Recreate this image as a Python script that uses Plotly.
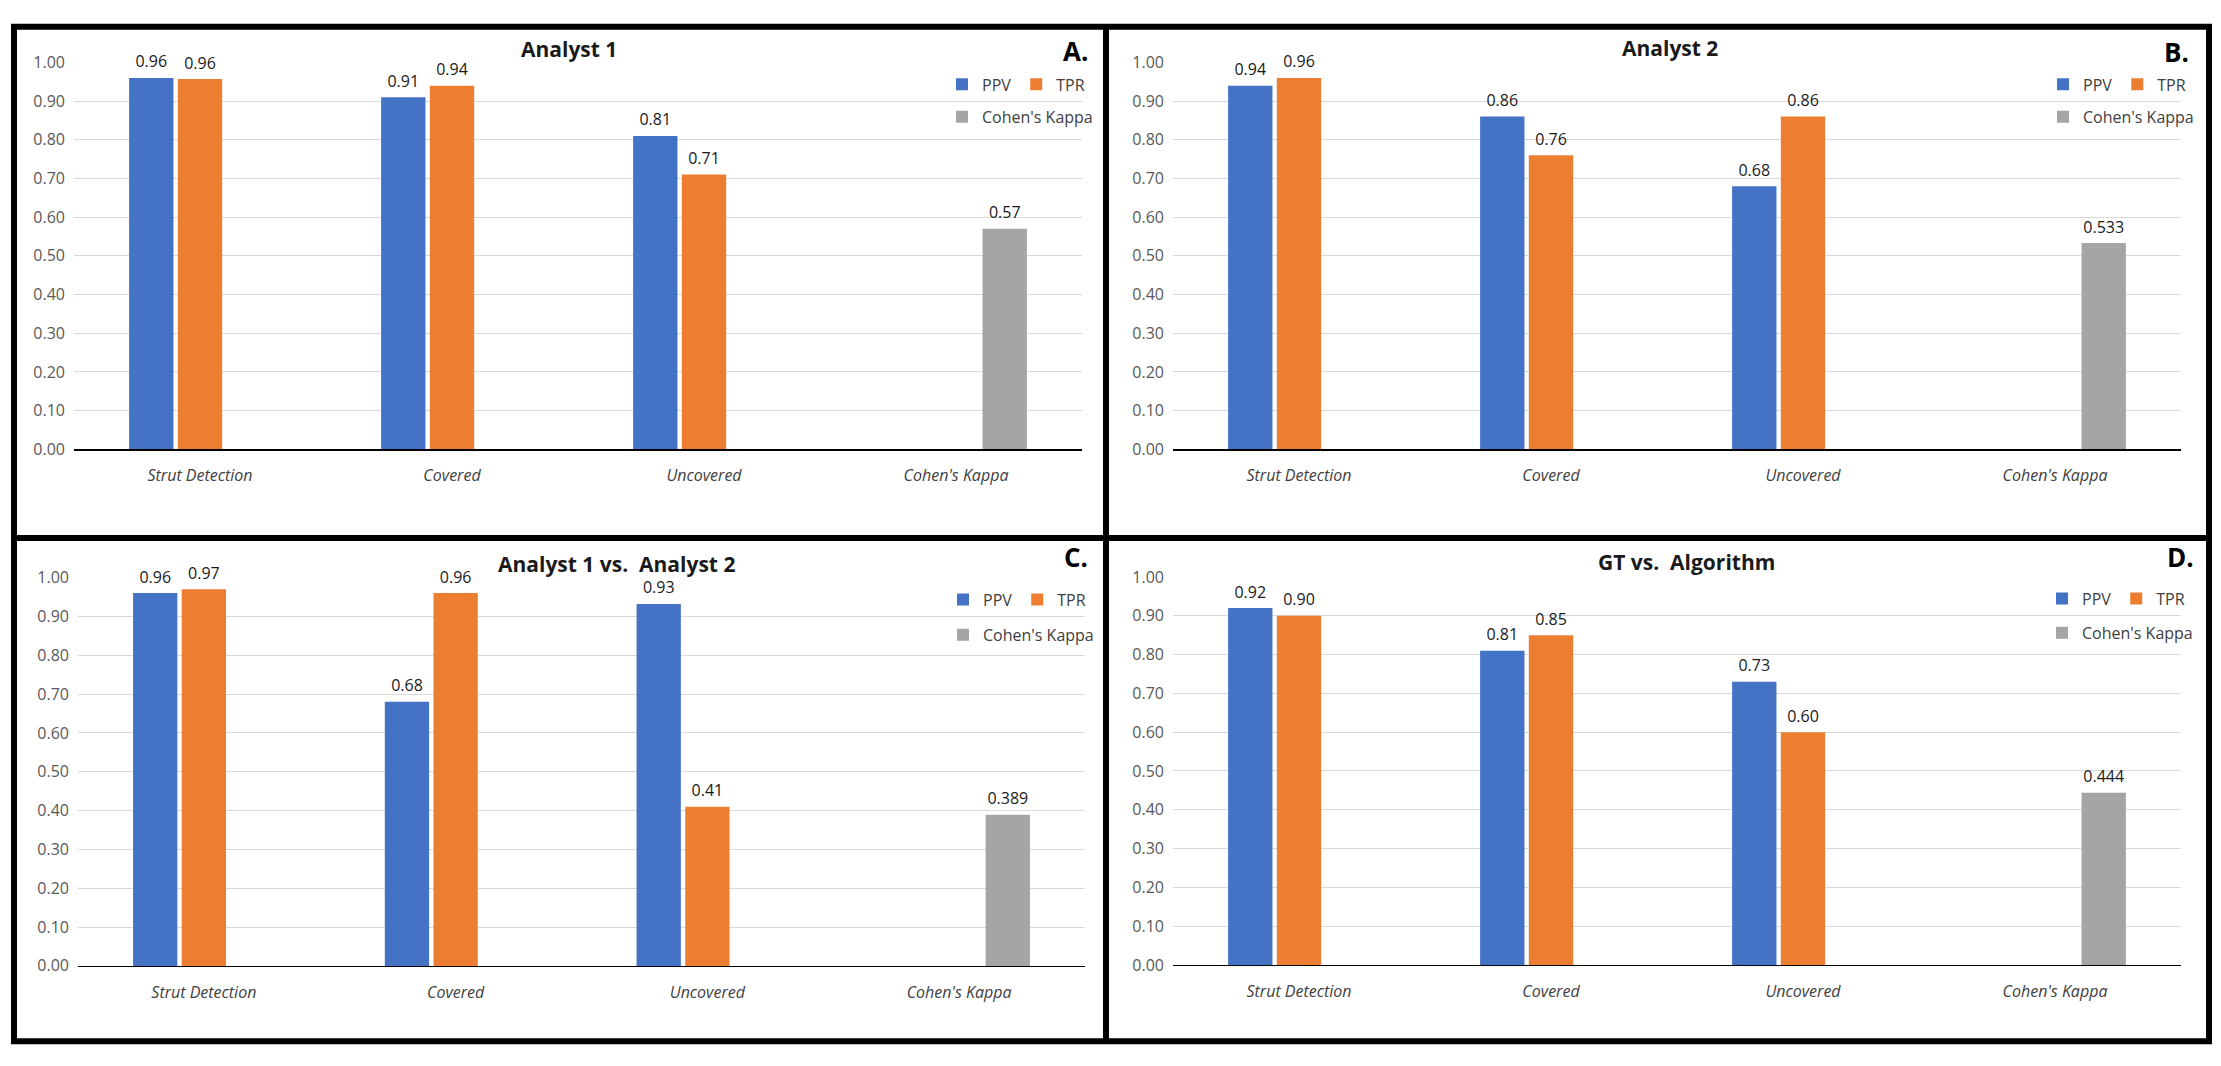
import plotly.graph_objects as go

# ---------------- data ----------------
categories = ["Strut Detection", "Covered", "Uncovered", "Cohen's Kappa"]
series_names = ["PPV", "TPR", "Cohen's Kappa"]
panel_titles = ["Analyst 1", "Analyst 2", "Analyst 1 vs.  Analyst 2", "GT vs.  Algorithm"]
panel_letters = ["A.", "B.", "C.", "D."]

ppv_a = [0.96, 0.91, 0.81]
tpr_a = [0.957, 0.94, 0.71]
ppv_b = [0.94, 0.86, 0.68]
tpr_b = [0.96, 0.76, 0.86]
ppv_c = [0.96, 0.68, 0.932]
tpr_c = [0.97, 0.96, 0.41]
ppv_d = [0.92, 0.81, 0.73]
tpr_d = [0.90, 0.85, 0.60]
kappa_values = [0.57, 0.533, 0.389, 0.444]
kappa_labels = ["0.57", "0.533", "0.389", "0.444"]

ppv_all = [ppv_a, ppv_b, ppv_c, ppv_d]
tpr_all = [tpr_a, tpr_b, tpr_c, tpr_d]

# ---------------- style / layout ----------------
W, H = 2221, 1066
COLORS = ["#4472C4", "#ED7D31", "#A5A5A5"]
FONT = "Open Sans, Segoe UI, Arial, sans-serif"
# data label: normal-size first line, tiny spacer line below lifts the label off the bar
LABEL_TEMPLATE = "<span style='font-size:16px'>%{text}</span><br>\u00a0"


def px_x(v):
    return v / W


def px_y(v):
    return 1 - v / H


# per panel: plot area (left, right, top(1.0), bottom(0.0)) in pixels,
# title centre, letter centre, legend left / row centres
panels = [
    dict(area=(74, 1082, 52.5, 447.5), title=(569, 39), letter=(1075, 41), leg=(942, 75, 108)),
    dict(area=(1173, 2181, 52.5, 447.5), title=(1670, 38), letter=(2176, 42), leg=(2043, 75, 108)),
    dict(area=(78, 1085, 578.5, 975), title=(616, 565), letter=(1076, 557), leg=(943, 601, 637)),
    dict(area=(1173, 2181, 578, 974), title=(1686, 563), letter=(2180, 558), leg=(2042, 600, 635)),
]

fig = go.Figure()
annotations = []
layout_extra = {}

for i, p in enumerate(panels):
    sfx = "" if i == 0 else str(i + 1)
    xa, ya = "x" + sfx, "y" + sfx
    leg_main = "legend" if i == 0 else f"legend{2 * i + 1}"
    leg_kappa = f"legend{2 * i + 2}"

    ppv_y = ppv_all[i] + [None]
    tpr_y = tpr_all[i] + [None]
    kap_y = [None, None, None, kappa_values[i]]
    ppv_t = [f"{v:.2f}" for v in ppv_all[i]] + [""]
    tpr_t = [f"{v:.2f}" for v in tpr_all[i]] + [""]
    kap_t = ["", "", "", kappa_labels[i]]

    for name, yv, tv, col, lg in [
        (series_names[0], ppv_y, ppv_t, COLORS[0], leg_main),
        (series_names[1], tpr_y, tpr_t, COLORS[1], leg_main),
        (series_names[2], kap_y, kap_t, COLORS[2], leg_kappa),
    ]:
        fig.add_trace(go.Bar(
            x=categories, y=yv, name=name, text=tv,
            texttemplate=LABEL_TEMPLATE,
            textposition="outside", cliponaxis=False, constraintext="none",
            textfont=dict(family=FONT, size=5, color="#1a1a1a"),
            marker=dict(color=col, line=dict(width=0)),
            xaxis=xa, yaxis=ya, legend=lg, showlegend=True,
        ))

    l, r, t, b = p["area"]
    layout_extra["xaxis" + sfx] = dict(
        domain=[px_x(l), px_x(r)], anchor=ya, type="category",
        showgrid=False, showline=True, linecolor="#000000", linewidth=1.5,
        ticks="", ticklabelstandoff=11,
        tickfont=dict(family=FONT, size=16, color="#404040", style="italic"),
        fixedrange=True,
    )
    layout_extra["yaxis" + sfx] = dict(
        domain=[px_y(b), px_y(t)], anchor=xa, range=[0, 1.0], dtick=0.1,
        tickformat=".2f", showgrid=True, gridcolor="#D9D9D9", gridwidth=1,
        zeroline=False, showline=False, ticks="", ticklabelstandoff=8,
        tickfont=dict(family=FONT, size=16, color="#595959"),
        fixedrange=True,
    )

    legx, row1, row2 = p["leg"]
    for lg, ry in [(leg_main, row1), (leg_kappa, row2)]:
        layout_extra[lg] = dict(
            orientation="h", x=px_x(legx), y=px_y(ry), xanchor="left", yanchor="middle",
            bgcolor="rgba(0,0,0,0)", borderwidth=0,
            font=dict(family=FONT, size=16, color="#404040"),
            tracegroupgap=0, itemclick=False, itemdoubleclick=False,
        )

    tx, ty = p["title"]
    annotations.append(dict(
        text=f"<b>{panel_titles[i]}</b>", x=px_x(tx), y=px_y(ty), xref="paper", yref="paper",
        xanchor="center", yanchor="middle", showarrow=False,
        font=dict(family=FONT, size=21, color="#1a1a1a"),
    ))
    lx, ly = p["letter"]
    annotations.append(dict(
        text=f"<b>{panel_letters[i]}</b>", x=px_x(lx), y=px_y(ly), xref="paper", yref="paper",
        xanchor="center", yanchor="middle", showarrow=False,
        font=dict(family=FONT, size=26, color="#000000"),
    ))

# frame lines (outer border and dividers)
BW = 6
shapes = [
    dict(type="rect", xref="paper", yref="paper", x0=px_x(14), x1=px_x(2209),
         y0=px_y(1052), y1=px_y(16), line=dict(color="#000000", width=BW)),
    dict(type="line", xref="paper", yref="paper", x0=px_x(1106), x1=px_x(1106),
         y0=px_y(1052), y1=px_y(16), line=dict(color="#000000", width=BW)),
    dict(type="line", xref="paper", yref="paper", x0=px_x(14), x1=px_x(2209),
         y0=px_y(538), y1=px_y(538), line=dict(color="#000000", width=BW)),
]

fig.update_layout(
    width=W, height=H, autosize=False,
    margin=dict(l=0, r=0, t=0, b=0, pad=0),
    paper_bgcolor="#FFFFFF", plot_bgcolor="#FFFFFF",
    barmode="group", bargap=0.42, bargroupgap=0.09,
    font=dict(family=FONT, color="#404040"),
    annotations=annotations, shapes=shapes,
    **layout_extra,
)

fig.write_html(
    "out.html",
    config={"displayModeBar": False, "staticPlot": True},
    post_script="document.body.style.margin='0';document.body.style.overflow='hidden';",
)
